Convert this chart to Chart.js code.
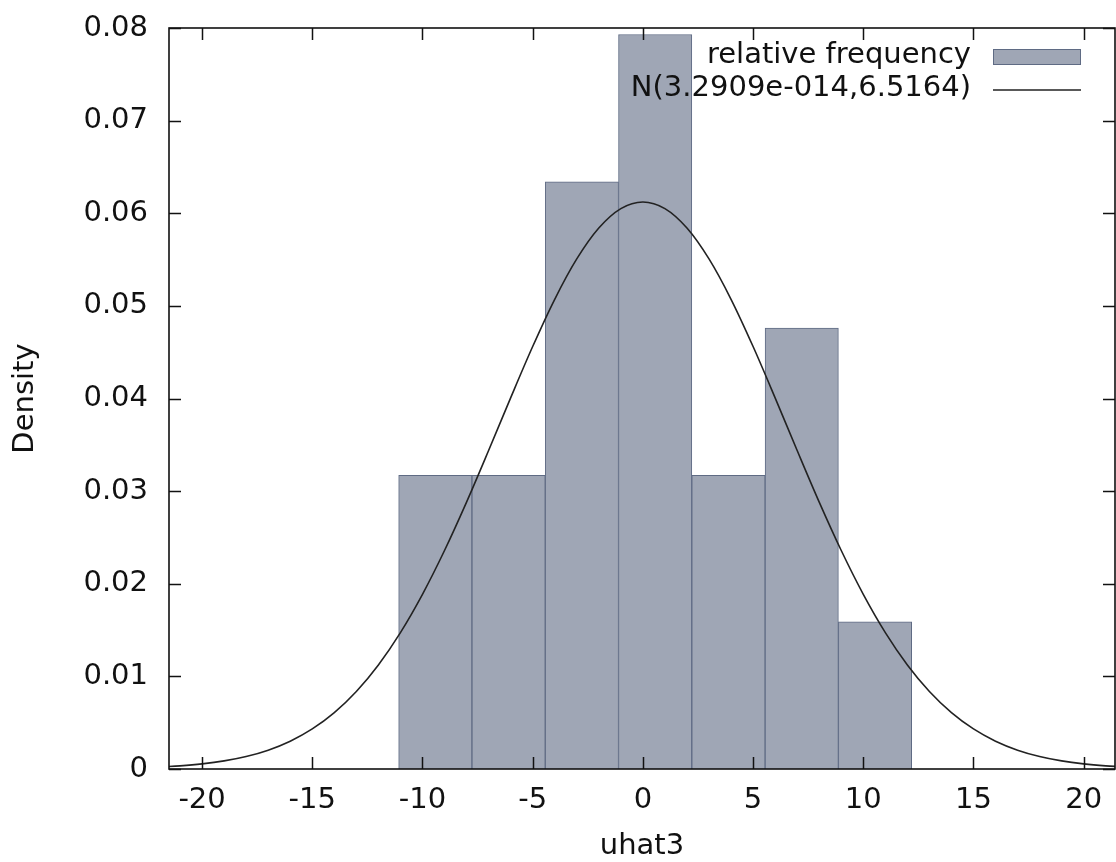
<!DOCTYPE html>
<html>
<head>
<meta charset="utf-8">
<title>uhat3 histogram</title>
<script src="https://cdn.jsdelivr.net/npm/chart.js@4.4.1/dist/chart.umd.min.js"></script>
<style>
  html, body { margin: 0; padding: 0; background: #ffffff; }
  #chart { display: block; }
</style>
</head>
<body>
<canvas id="chart" width="1116" height="862"></canvas>
<script>
// ── Data ──────────────────────────────────────────────────────────────────
// Histogram bins: midpoints and density (relative frequency / bin width)
const binMid     = [-9.4175, -6.0925, -2.7675, 0.5575, 3.8825, 7.2075, 10.5325];
const binDensity = [0.0317, 0.0317, 0.0634, 0.0793, 0.0317, 0.0476, 0.0159];

// Normal density curve
const curveX = [-22, -21, -20, -19, -18, -17, -16, -15, -14, -13, -12, -11, -10, -9, -8, -7, -6, -5, -4, -3, -2, -1,
                0, 1, 2, 3, 4, 5, 6, 7, 8, 9, 10, 11, 12, 13, 14, 15, 16, 17, 18, 19, 20, 21, 22];
const curveY = [0.000205, 0.000340, 0.000551, 0.000873, 0.001349, 0.002037, 0.003005, 0.004328, 0.006089,
                0.008369, 0.011236, 0.014727, 0.018860, 0.023588, 0.028815, 0.034383, 0.040070, 0.045609,
                0.050710, 0.055066, 0.058405, 0.060505,
                0.061222,
                0.060505, 0.058405, 0.055066, 0.050710, 0.045609, 0.040070, 0.034383, 0.028815, 0.023588,
                0.018860, 0.014727, 0.011236, 0.008369, 0.006089, 0.004328, 0.003005, 0.002037, 0.001349,
                0.000873, 0.000551, 0.000340, 0.000205];

const HIST_LABEL  = "relative frequency";
const CURVE_LABEL = "N(3.2909e-014,6.5164)";
const X_TITLE     = "uhat3";
const Y_TITLE     = "Density";

// ── Style ─────────────────────────────────────────────────────────────────
const FONT      = { family: "'DejaVu Sans', Verdana, sans-serif", size: 29 };
const TEXT_CLR  = "#111111";
const BAR_FILL  = "#9fa6b5";
const BAR_EDGE  = "#5f6b84";
const CURVE_CLR = "#222222";
const TICK_LEN  = 12;

// Frame with inward mirror ticks (gnuplot style) + key in the top-right corner
const framePlugin = {
  id: "frame",
  afterDatasetsDraw(chart) {
    const { ctx, chartArea: a, scales: { x, y } } = chart;
    ctx.save();
    ctx.strokeStyle = "#111111";
    ctx.lineWidth = 1.6;
    ctx.strokeRect(a.left, a.top, a.right - a.left, a.bottom - a.top);

    ctx.lineWidth = 1.5;
    ctx.beginPath();
    x.ticks.forEach(t => {
      const px = Math.round(x.getPixelForValue(t.value)) + 0.5;
      ctx.moveTo(px, a.bottom); ctx.lineTo(px, a.bottom - TICK_LEN);
      ctx.moveTo(px, a.top);    ctx.lineTo(px, a.top + TICK_LEN);
    });
    y.ticks.forEach(t => {
      const py = Math.round(y.getPixelForValue(t.value)) + 0.5;
      ctx.moveTo(a.left, py);  ctx.lineTo(a.left + TICK_LEN, py);
      ctx.moveTo(a.right, py); ctx.lineTo(a.right - TICK_LEN, py);
    });
    ctx.stroke();

    // key
    const textRight = a.right - 144;
    const sampleL   = a.right - 122;
    const sampleR   = a.right - 34;
    const row1 = a.top + 27, row2 = a.top + 60;
    ctx.font = `${FONT.size}px ${FONT.family}`;
    ctx.fillStyle = TEXT_CLR;
    ctx.textAlign = "right";
    ctx.textBaseline = "middle";
    ctx.fillText(HIST_LABEL, textRight, row1);
    ctx.fillText(CURVE_LABEL, textRight, row2);

    ctx.fillStyle = BAR_FILL;
    ctx.fillRect(sampleL, row1 - 6, sampleR - sampleL, 16);
    ctx.strokeStyle = BAR_EDGE;
    ctx.lineWidth = 1;
    ctx.strokeRect(sampleL + 0.5, row1 - 5.5, sampleR - sampleL - 1, 15);

    ctx.strokeStyle = CURVE_CLR;
    ctx.lineWidth = 1.6;
    ctx.beginPath();
    ctx.moveTo(sampleL, row2 + 2);
    ctx.lineTo(sampleR, row2 + 2);
    ctx.stroke();
    ctx.restore();
  },
};

new Chart(document.getElementById("chart"), {
  type: "bar",
  data: {
    datasets: [
      {
        type: "line",
        label: CURVE_LABEL,
        data: curveX.map((v, i) => ({ x: v, y: curveY[i] })),
        borderColor: CURVE_CLR,
        borderWidth: 1.6,
        pointRadius: 0,
        cubicInterpolationMode: "monotone",
        fill: false,
        order: 0,
      },
      {
        type: "bar",
        label: HIST_LABEL,
        data: binMid.map((v, i) => ({ x: v, y: binDensity[i] })),
        backgroundColor: BAR_FILL,
        borderColor: BAR_EDGE,
        borderWidth: 1,
        barPercentage: 1,
        categoryPercentage: 1,
        order: 1,
      },
    ],
  },
  options: {
    responsive: false,
    animation: false,
    devicePixelRatio: 1,
    layout: { padding: { top: 28, right: 1, left: 0, bottom: 0 } },
    plugins: { legend: { display: false }, tooltip: { enabled: false } },
    scales: {
      x: {
        type: "linear",
        min: -21.5,
        max: 21.42,
        offset: false,
        grid: { display: false, drawTicks: false, offset: false },
        border: { display: false },
        ticks: {
          stepSize: 5, includeBounds: false, padding: 14,
          maxRotation: 0, autoSkip: false,
          font: FONT, color: TEXT_CLR,
        },
        title: { display: true, text: X_TITLE, font: FONT, color: TEXT_CLR, padding: { top: 0, bottom: -2 } },
        afterFit: s => { s.height = 93; s.paddingLeft = 0; s.paddingRight = 0; },
      },
      y: {
        type: "linear",
        min: 0,
        max: 0.08,
        grid: { display: false, drawTicks: false },
        border: { display: false },
        ticks: {
          stepSize: 0.01, padding: 21,
          font: FONT, color: TEXT_CLR,
          callback: v => (Math.abs(v) < 1e-9 ? "0" : v.toFixed(2)),
        },
        title: { display: true, text: Y_TITLE, font: FONT, color: TEXT_CLR, padding: { top: 8, bottom: 0 } },
        afterFit: s => { s.width = 169; s.paddingTop = 0; s.paddingBottom = 0; },
      },
    },
  },
  plugins: [framePlugin],
});
</script>
</body>
</html>
